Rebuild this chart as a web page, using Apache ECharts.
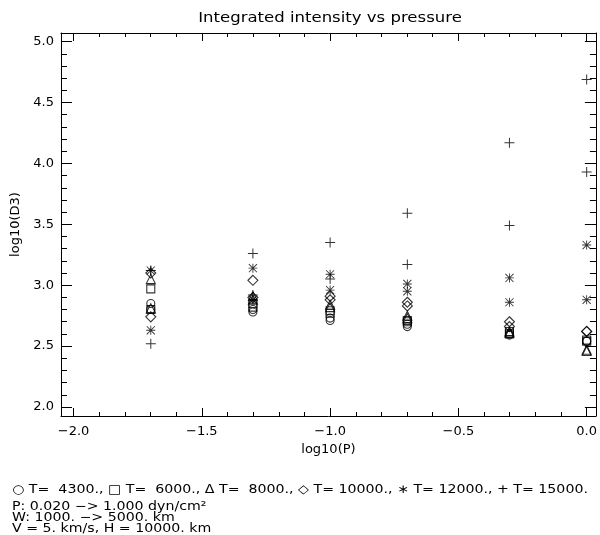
<!DOCTYPE html>
<html>
<head>
<meta charset="utf-8">
<script src="https://cdn.jsdelivr.net/npm/echarts@6/dist/echarts.min.js"></script>
<style>
html,body{margin:0;padding:0;background:#fff;}
#chart{width:600px;height:535px;}
</style>
</head>
<body>
<div id="chart"></div>
<script>
// ---- data (log10 of pressure, two W cases per temperature) ----
const logP = [-1.699, -1.301, -1.0, -0.699, -0.301, 0.0];
const d4300  = [[2.85,2.80],[2.78,2.80],[2.71,2.73],[2.66,2.68],[2.59,2.60],[2.54,2.54]];
const d6000  = [[2.97,2.80],[2.85,2.82],[2.77,2.79],[2.71,2.70],[2.62,2.60],[2.54,2.55]];
const d8000  = [[3.05,2.81],[2.91,2.88],[2.82,2.84],[2.75,2.73],[2.61,2.62],[2.46,2.47]];
const d10000 = [[3.10,2.74],[3.04,2.90],[2.88,2.91],[2.86,2.83],[2.70,2.66],[2.62,2.62]];
const d12000 = [[3.12,2.63],[3.14,2.88],[3.09,2.96],[3.01,2.95],[3.06,2.86],[3.33,2.88]];
const d15000 = [[3.12,2.52],[3.26,2.92],[3.35,3.05],[3.59,3.17],[4.17,3.49],[4.69,3.93]];

const xMajor = [-2.0, -1.5, -1.0, -0.5, 0.0];
const xMinor = [-2.0,-1.9,-1.8,-1.7,-1.6,-1.5,-1.4,-1.3,-1.2,-1.1,-1.0,-0.9,-0.8,-0.7,-0.6,-0.5,-0.4,-0.3,-0.2,-0.1,0.0];
const yMajor = [2.0, 2.5, 3.0, 3.5, 4.0, 4.5, 5.0];
const yMinor = [2.0,2.1,2.2,2.3,2.4,2.5,2.6,2.7,2.8,2.9,3.0,3.1,3.2,3.3,3.4,3.5,3.6,3.7,3.8,3.9,4.0,4.1,4.2,4.3,4.4,4.5,4.6,4.7,4.8,4.9,5.0];

const titleText = 'Integrated intensity vs pressure';
const xName = 'log10(P)';
const yName = 'log10(D3)';
const legendLine = '\u25CB T=  4300., \u25A1 T=  6000., \u0394 T=  8000., \u25C7 T= 10000., \u2217 T= 12000., + T= 15000.';
const infoLines = ['P: 0.020 \u2212> 1.000 dyn/cm\u00B2', 'W: 1000. \u2212> 5000. km', 'V = 5. km/s, H = 10000. km'];

// ---- layout ----
const FONT = 'DejaVu Sans';
const XMIN = -2.049, XMAX = 0.036, YMIN = 1.926, YMAX = 5.071;

const plusPath = 'path://M9,0 L11,0 L11,20 L9,20 Z M0,9 L20,9 L20,11 L0,11 Z';
const starPath = 'path://M9,0 L11,0 L11,20 L9,20 Z M0,9 L20,9 L20,11 L0,11 Z ' +
  'M1.7,0.3 L19.7,18.3 L18.3,19.7 L0.3,1.7 Z M18.3,0.3 L19.7,1.7 L1.7,19.7 L0.3,18.3 Z';

function pts(arr) {
  const out = [];
  arr.forEach((pair, i) => pair.forEach(v => out.push([logP[i], v])));
  return out;
}
function hollow(name, symbol, size, arr) {
  return {type:'scatter', name, symbol, symbolSize:size, data:pts(arr),
    itemStyle:{color:'transparent', borderColor:'#000', borderWidth:1.1}, z:5, silent:true};
}
function solid(name, symbol, size, arr) {
  return {type:'scatter', name, symbol, symbolSize:size, data:pts(arr),
    itemStyle:{color:'#000', borderWidth:0}, z:5, silent:true};
}
const fmt = v => (v < 0 ? '\u2212' : '') + Math.abs(v).toFixed(1);
const blk = {color:'#000', width:1};

function xAx(pos, vals, len, showLine, labels) {
  return {type:'value', position:pos, min:XMIN, max:XMAX,
    axisLine:{show:showLine, onZero:false, lineStyle:blk},
    axisTick:{show:true, inside:true, length:len, customValues:vals, lineStyle:blk},
    axisLabel:labels ? {show:true, customValues:vals, formatter:fmt, color:'#000', fontSize:13, fontFamily:FONT, margin:9}
                     : {show:false},
    splitLine:{show:false}};
}
function yAx(pos, vals, len, showLine, labels) {
  return {type:'value', position:pos, min:YMIN, max:YMAX,
    axisLine:{show:showLine, onZero:false, lineStyle:blk},
    axisTick:{show:true, inside:true, length:len, customValues:vals, lineStyle:blk},
    axisLabel:labels ? {show:true, customValues:vals, formatter:fmt, color:'#000', fontSize:13, fontFamily:FONT, margin:7}
                     : {show:false},
    splitLine:{show:false}};
}

const xAxes = [xAx('bottom', xMajor, 8, true, true), xAx('bottom', xMinor, 4, false, false),
               xAx('top', xMajor, 8, true, false), xAx('top', xMinor, 4, false, false)];
Object.assign(xAxes[0], {name:xName, nameLocation:'middle', nameGap:22,
  nameTextStyle:{color:'#000', fontSize:13, fontFamily:FONT}});
const yAxes = [yAx('left', yMajor, 11, true, true), yAx('left', yMinor, 6, false, false),
               yAx('right', yMajor, 11, true, false), yAx('right', yMinor, 6, false, false)];
Object.assign(yAxes[0], {name:yName, nameLocation:'middle', nameGap:37, nameRotate:90,
  nameTextStyle:{color:'#000', fontSize:13, fontFamily:FONT}});

const SX = 1.18;
function txt(text, x, y, size, align) {
  return {type:'text', x:x, y:y, scaleX:SX, silent:true,
    style:{text:text, fill:'#000', font:size + 'px "DejaVu Sans"', align:align || 'left', verticalAlign:'middle'}};
}

const chart = echarts.init(document.getElementById('chart'), null, {renderer:'canvas'});
chart.setOption({
  animation:false,
  backgroundColor:'#fff',
  grid:{left:61, right:1, top:33, bottom:119, containLabel:false},
  xAxis:xAxes,
  yAxis:yAxes,
  series:[
    hollow('T=4300', 'circle', 8, d4300),
    hollow('T=6000', 'rect', 8, d6000),
    hollow('T=8000', 'triangle', 9, d8000),
    hollow('T=10000', 'diamond', 10, d10000),
    solid('T=12000', starPath, 9, d12000),
    solid('T=15000', plusPath, 10, d15000)
  ],
  graphic:[
    txt(titleText, 330, 18, 14, 'center'),
    txt(legendLine, 12, 490, 12),
    txt(infoLines[0], 12, 507, 12),
    txt(infoLines[1], 12, 518, 12),
    txt(infoLines[2], 12, 529, 12)
  ]
});
</script>
</body>
</html>
